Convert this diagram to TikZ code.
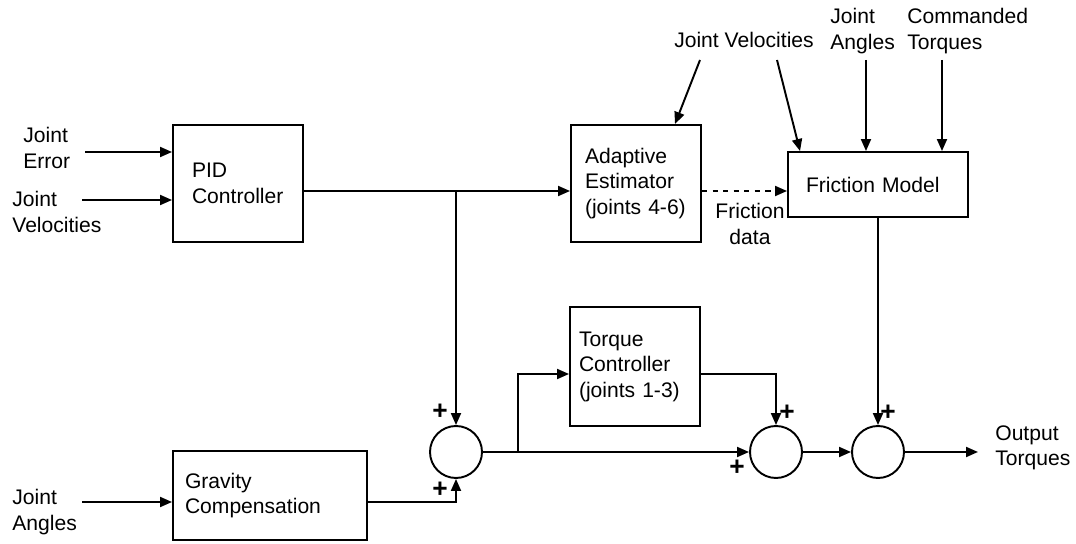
\documentclass[tikz,border=0pt]{standalone}
\usepackage{fontspec}
\setmainfont{Liberation Sans}
\usetikzlibrary{positioning,arrows.meta}
\tikzset{
  blk/.style={draw,line width=1.1pt,rectangle,align=left},
  sumnode/.style={draw,line width=1.1pt,circle,minimum size=1.04cm,inner sep=0pt},
  lbl/.style={align=left,inner sep=0pt},
  plus/.style={inner sep=0pt,font=\fontsize{15}{15}\selectfont\bfseries},
  sig/.style={line width=1.1pt,-{Triangle[length=0.24cm,width=0.2cm]}}
}

\begin{document}
\begin{tikzpicture}[font=\fontsize{12}{14.5}\selectfont]
  \useasboundingbox (0,0) rectangle (21.52,10.88);

  \node[blk,text width=1.84cm,inner xsep=0.38cm,minimum height=2.34cm]
    (pid) at (4.76,7.21) {PID\\Controller};
  \node[blk,text width=2.04cm,inner xsep=0.28cm,minimum height=2.34cm]
    (adapt) at (12.72,7.21) {Adaptive\\Estimator\\\mbox{(joints 4-6)}};
  \node[blk,text width=2.88cm,inner xsep=0.36cm,minimum height=1.3cm]
    (fric) at (17.56,7.19) {Friction Model};
  \node[blk,text width=2.24cm,inner xsep=0.18cm,minimum height=2.38cm]
    (torque) at (12.70,3.55) {Torque\\Controller\\\mbox{(joints 1-3)}};
  \node[blk,text width=3.40cm,inner xsep=0.24cm,minimum height=1.78cm]
    (grav) at (5.40,0.97) {Gravity\\Compensation};
  \node[sumnode] (sum1) at (9.12,1.84) {};
  \node[sumnode] (sum2) at (15.52,1.84) {};
  \node[sumnode] (sum3) at (17.56,1.84) {};

  \node[lbl,anchor=west] (jerr) at (0.46,7.92) {Joint\\Error};
  \node[lbl,anchor=west] (jvel) at (0.24,6.64) {Joint\\Velocities};
  \node[lbl,anchor=west] (jang) at (0.24,0.64) {Joint\\Angles};
  \node[lbl] (jveltop) at (14.88,10.08) {Joint Velocities};
  \node[lbl,anchor=west] (jangtop) at (16.60,10.26) {Joint\\Angles};
  \node[lbl,anchor=west] (cmdtq) at (18.14,10.26) {Commanded\\Torques};
  \node[lbl,align=center] (fdata) at (15.00,6.40) {Friction\\data};
  \node[lbl,anchor=west] (outtq) at (19.90,1.92) {Output\\Torques};

  \coordinate (jerrin) at (1.70,7.84);
  \coordinate (jvelin) at (1.64,6.88);
  \coordinate (jangin) at (1.64,0.84);
  \coordinate (jvtop1) at (14.00,9.68);
  \coordinate (jvtop2) at (15.54,9.68);
  \coordinate (jatop) at (17.32,9.68);
  \coordinate (cttop) at (18.84,9.68);
  \coordinate (pidout) at ([yshift=-0.15cm]pid.east);
  \coordinate (split) at (10.36,1.84);
  \coordinate (out) at (19.56,1.84);

  \draw[sig] (jerrin) -- (jerrin -| pid.west);
  \draw[sig] (jvelin) -- (jvelin -| pid.west);
  \draw[sig] (jangin) -- (jangin -| grav.west);
  \draw[sig] (pidout) -- (pidout -| adapt.west);
  \draw[sig] (pidout -| sum1) -- (sum1.north);
  \draw[sig,dashed] ([yshift=-0.15cm]adapt.east) -- ([yshift=-0.15cm]adapt.east -| fric.west);
  \draw[sig] (jvtop1) -- ([xshift=0.78cm]adapt.north);
  \draw[sig] (jvtop2) -- ([xshift=0.26cm]fric.north west);
  \draw[sig] (jatop) -- (jatop |- fric.north);
  \draw[sig] (cttop) -- (cttop |- fric.north);
  \draw[sig] (jangin -| grav.east) -| (sum1.south);
  \draw[sig] (sum1.east) -- (sum2.west);
  \draw[sig] (split) |- ([yshift=-0.15cm]torque.west);
  \draw[sig] ([yshift=-0.15cm]torque.east) -| (sum2.north);
  \draw[sig] (fric.south) -- (sum3.north);
  \draw[sig] (sum2.east) -- (sum3.west);
  \draw[sig] (sum3.east) -- (out);

  \node[plus] (p1) at (8.80,2.64) {+};
  \node[plus] (p2) at (8.80,1.08) {+};
  \node[plus] (p3) at (15.74,2.62) {+};
  \node[plus] (p4) at (14.74,1.52) {+};
  \node[plus] (p5) at (17.76,2.62) {+};
\end{tikzpicture}
\end{document}
